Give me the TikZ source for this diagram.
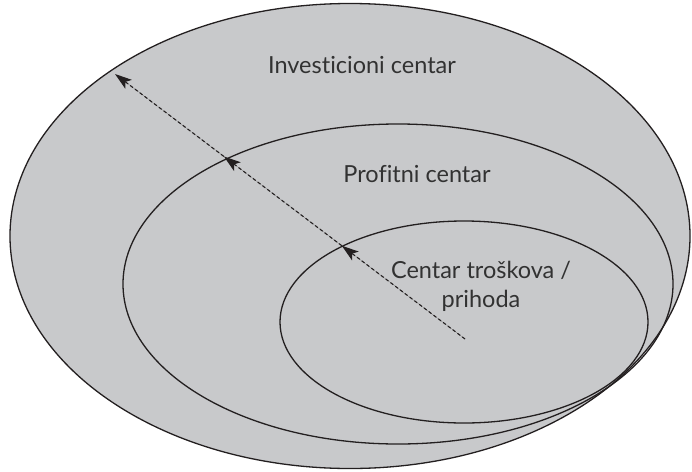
\documentclass[tikz,border=0pt]{standalone}
\usepackage{fontspec}
\setmainfont{Lato}[Ligatures=NoCommon]
\usetikzlibrary{arrows.meta,calc}

\definecolor{zonegray}{RGB}{200,201,203}
\definecolor{edgeblack}{RGB}{35,31,32}
\definecolor{textgray}{RGB}{50,50,50}

\begin{document}
\begin{tikzpicture}
                [x=1pt,y=-1pt,>={Stealth[length=17pt,width=11pt,inset=4pt]},
                 zone/.style={draw=edgeblack,line width=1.3pt},
                 flow/.style={->,draw=edgeblack,fill=edgeblack,line width=1.1pt,dash pattern=on 3.5pt off 2.5pt},
                 txt/.style={align=center,text=textgray,anchor=base,font=\fontsize{23.5}{29}\selectfont}]

                \useasboundingbox (0,0) rectangle (692,471);

                % three nested centres, all touching at the lower right
                \filldraw[zone,fill=zonegray] (350,236) ellipse [x radius=340, y radius=232.5];
                \draw[zone] (398,284) ellipse [x radius=275, y radius=160];
                \draw[zone] (464,322) ellipse [x radius=184, y radius=101];

                \node[txt] (invest) at (362,73) {Investicioni centar};
                \node[txt] (profit) at (417,182) {Profitni centar};
                \node[txt] (cost) at (481,307) {Centar troškova /\\prihoda}; % base = last line

                % arrow from the inner centre out through each border
                \coordinate (start) at (465,339);
                \coordinate (tipOuter) at (115,74);
                \coordinate (tipInner) at ($(start)!0.352!(tipOuter)$);
                \coordinate (tipMiddle) at ($(start)!0.689!(tipOuter)$);
                \draw[flow] (start) -- (tipInner);
                \draw[flow] (tipInner) -- (tipMiddle);
                \draw[flow] (tipMiddle) -- (tipOuter);

\end{tikzpicture}
\end{document}
